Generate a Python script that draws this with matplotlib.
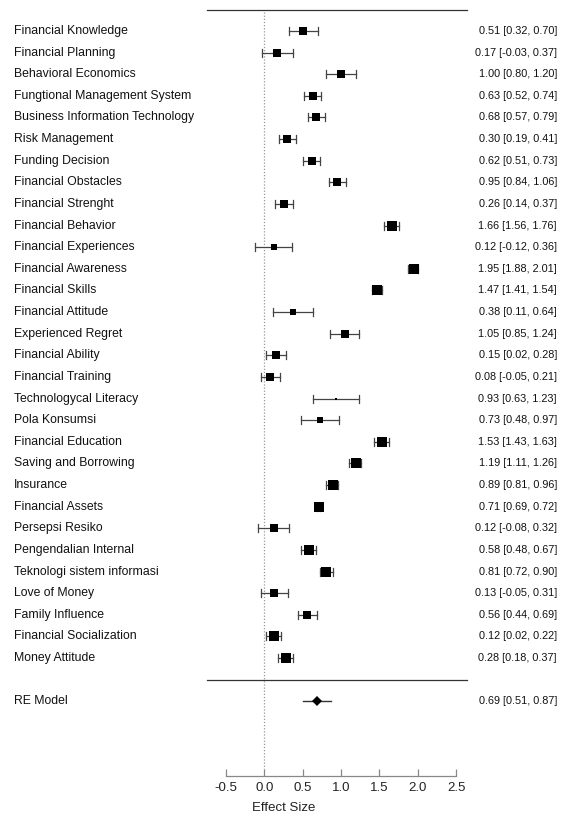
import matplotlib
matplotlib.use("Agg")
import matplotlib.pyplot as plt
import numpy as np

studies = ["Financial Knowledge", "Financial Planning", "Behavioral Economics",
           "Fungtional Management System", "Business Information Technology",
           "Risk Management", "Funding Decision", "Financial Obstacles",
           "Financial Strenght", "Financial Behavior", "Financial Experiences",
           "Financial Awareness", "Financial Skills", "Financial Attitude",
           "Experienced Regret", "Financial Ability", "Financial Training",
           "Technologycal Literacy", "Pola Konsumsi", "Financial Education",
           "Saving and Borrowing", "Insurance", "Financial Assets",
           "Persepsi Resiko", "Pengendalian Internal", "Teknologi sistem informasi",
           "Love of Money", "Family Influence", "Financial Socialization",
           "Money Attitude"]
est = [0.51, 0.17, 1.00, 0.63, 0.68, 0.30, 0.62, 0.95, 0.26, 1.66, 0.12, 1.95,
       1.47, 0.38, 1.05, 0.15, 0.08, 0.93, 0.73, 1.53, 1.19, 0.89, 0.71, 0.12,
       0.58, 0.81, 0.13, 0.56, 0.12, 0.28]
lower = [0.32, -0.03, 0.80, 0.52, 0.57, 0.19, 0.51, 0.84, 0.14, 1.56, -0.12, 1.88,
         1.41, 0.11, 0.85, 0.02, -0.05, 0.63, 0.48, 1.43, 1.11, 0.81, 0.69, -0.08,
         0.48, 0.72, -0.05, 0.44, 0.02, 0.18]
upper = [0.70, 0.37, 1.20, 0.74, 0.79, 0.41, 0.73, 1.06, 0.37, 1.76, 0.36, 2.01,
         1.54, 0.64, 1.24, 0.28, 0.21, 1.23, 0.97, 1.63, 1.26, 0.96, 0.72, 0.32,
         0.67, 0.90, 0.31, 0.69, 0.22, 0.37]
re_label = "RE Model"
re_est, re_lower, re_upper = 0.69, 0.51, 0.87
xticks = [-0.5, 0.0, 0.5, 1.0, 1.5, 2.0, 2.5]
xlabel = "Effect Size"

W, H, DPI = 568, 822, 100
fig = plt.figure(figsize=(W / DPI, H / DPI), dpi=DPI)
plt.rcParams['font.family'] = ['Liberation Sans', 'DejaVu Sans']

# pixel geometry
px_per_unit = (456 - 226) / 3.0
x_left = -0.5 - 226 / px_per_unit
x_right = -0.5 + (W - 226) / px_per_unit
row0_px, row_step = 31.0, 21.62
axis_px = 776
def row_of(px):
    return (px - row0_px) / row_step

ax = fig.add_axes([0, (H - axis_px) / H, 1, axis_px / H])
ax.set_xlim(x_left, x_right)
ax.set_ylim(row_of(axis_px), row_of(0))
for s in ["top", "left", "right"]:
    ax.spines[s].set_visible(False)
ax.spines["bottom"].set_bounds(xticks[0], xticks[-1])
ax.spines["bottom"].set_color("#888888")
ax.spines["bottom"].set_linewidth(0.9)
ax.set_yticks([])
ax.set_xticks(xticks)
ax.set_xticklabels([f"{t:.1f}" for t in xticks], fontsize=9.5, color="#222222")
ax.tick_params(axis="x", direction="in", length=5, width=0.9, color="#888888", pad=4)
ax.set_xlabel(xlabel, fontsize=9.5, color="#222222", labelpad=6)

n = len(studies)
est_a, lo_a, up_a = np.array(est), np.array(lower), np.array(upper)

# marker sizes from random-effects weights
se = (up_a - lo_a) / 3.92
re_se = (re_upper - re_lower) / 3.92
tau2 = max(n * re_se ** 2 - np.mean(se ** 2), 0.01)
w = 1.0 / (se ** 2 + tau2)
wn = (w - w.min()) / (w.max() - w.min())
sizes_px = 2.0 + np.sqrt(wn) * 7.5

label_x = x_left + 14 / px_per_unit
right_x = x_left + 557 / px_per_unit
fs_left = 8.8
fs_right = 7.8

# top & separator lines
line_x0 = x_left + 207 / px_per_unit
line_x1 = x_left + 467 / px_per_unit
ax.plot([line_x0, line_x1], [row_of(10), row_of(10)], color="#333333", lw=0.9, clip_on=False)
ax.plot([line_x0, line_x1], [row_of(680), row_of(680)], color="#333333", lw=0.9, clip_on=False)

# reference line at 0
ax.plot([0, 0], [row_of(12), row_of(769)], color="#999999", lw=0.9, ls=(0, (1, 1.5)))

cap = 4.0 / row_step
for i in range(n):
    ax.plot([lo_a[i], up_a[i]], [i, i], color="#444444", lw=0.9)
    for xv in (lo_a[i], up_a[i]):
        ax.plot([xv, xv], [i - cap, i + cap], color="#444444", lw=0.9)
    ax.plot(est_a[i], i, marker="s", color="black", ms=sizes_px[i] * 72 / DPI, mew=0, ls="none")
    ax.text(label_x, i, studies[i], ha="left", va="center", fontsize=fs_left, color="#111111")
    ax.text(right_x, i, f"{est_a[i]:.2f} [{lo_a[i]:.2f}, {up_a[i]:.2f}]",
            ha="right", va="center", fontsize=fs_right, color="#111111")

re_row = row_of(701)
ax.plot([re_lower, re_upper], [re_row, re_row], color="#333333", lw=1.0)
ax.plot(re_est, re_row, marker="D", color="black", ms=7.0 * 72 / DPI, mew=0, ls="none")
ax.text(label_x, re_row, re_label, ha="left", va="center", fontsize=fs_left, color="#111111")
ax.text(right_x, re_row, f"{re_est:.2f} [{re_lower:.2f}, {re_upper:.2f}]",
        ha="right", va="center", fontsize=fs_right, color="#111111")

fig.savefig("out.png", dpi=DPI)
